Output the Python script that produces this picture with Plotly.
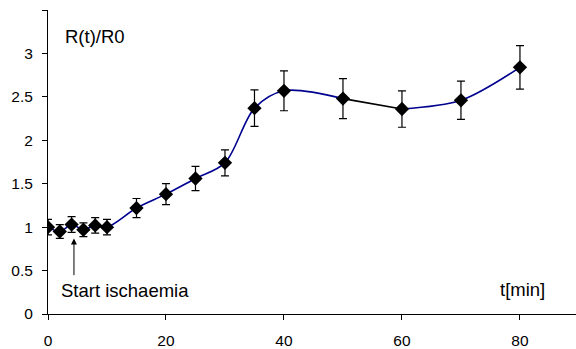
import plotly.graph_objects as go

t = [0, 2, 4, 6, 8, 10, 15, 20, 25, 30, 35, 40, 50, 60, 70, 80]
ratio = [1.00, 0.95, 1.03, 0.97, 1.02, 1.00, 1.22, 1.38, 1.56, 1.74, 2.37, 2.57, 2.48, 2.36, 2.46, 2.84]
err = [0.09, 0.08, 0.09, 0.08, 0.09, 0.09, 0.11, 0.12, 0.14, 0.15, 0.21, 0.23, 0.23, 0.21, 0.22, 0.25]
ytick_vals = [0, 0.5, 1, 1.5, 2, 2.5, 3, 3.5]
ytick_text = ["0", "0.5", "1", "1.5", "2", "2.5", "3", ""]
xtick_vals = [0, 20, 40, 60, 80]

FONT = "Liberation Sans, Arial, sans-serif"
NAVY = "#000090"

i50 = t.index(50)
i60 = t.index(60)

fig = go.Figure()
fig.add_trace(go.Scatter(x=t[:i50 + 1], y=ratio[:i50 + 1], mode="lines",
                         line=dict(color=NAVY, width=1.6, shape="spline", smoothing=0.9),
                         hoverinfo="skip", showlegend=False))
fig.add_trace(go.Scatter(x=t[i50:i60 + 1], y=ratio[i50:i60 + 1], mode="lines",
                         line=dict(color="black", width=1.6),
                         hoverinfo="skip", showlegend=False))
fig.add_trace(go.Scatter(x=t[i60:], y=ratio[i60:], mode="lines",
                         line=dict(color=NAVY, width=1.6, shape="spline", smoothing=0.9),
                         hoverinfo="skip", showlegend=False))
fig.add_trace(go.Scatter(x=t, y=ratio, mode="markers",
                         marker=dict(symbol="diamond", size=11, color="black"),
                         error_y=dict(type="data", array=err, visible=True,
                                      color="black", thickness=1.2, width=4),
                         showlegend=False))

fig.add_annotation(x=4.4, y=0.87, ax=4.4, ay=0.43, xref="x", yref="y",
                   axref="x", ayref="y", showarrow=True, arrowhead=2,
                   arrowsize=1.2, arrowwidth=1, arrowcolor="black", text="")
fig.add_annotation(x=1.8, y=0.27, xref="x", yref="y", text="Start ischaemia",
                   showarrow=False, xanchor="left", yanchor="middle",
                   font=dict(family=FONT, size=18.5, color="black"))
fig.add_annotation(x=2.6, y=3.2, xref="x", yref="y", text="R(t)/R0",
                   showarrow=False, xanchor="left", yanchor="middle",
                   font=dict(family=FONT, size=18.5, color="black"))
fig.add_annotation(x=76.3, y=0.28, xref="x", yref="y", text="t[min]",
                   showarrow=False, xanchor="left", yanchor="middle",
                   font=dict(family=FONT, size=18.5, color="black"))

fig.update_layout(
    width=576, height=349,
    margin=dict(l=48, r=0, t=10, b=35),
    paper_bgcolor="white", plot_bgcolor="white",
    font=dict(family=FONT, size=15.5, color="black"),
    showlegend=False,
)
fig.update_xaxes(range=[0, 89.5], tickvals=xtick_vals, ticks="outside", ticklen=5,
                 tickcolor="black", showline=True, linecolor="black", linewidth=1,
                 showgrid=False, zeroline=False, tickfont=dict(size=15.5),
                 ticklabelstandoff=7)
fig.update_yaxes(range=[0, 3.5], tickvals=ytick_vals, ticktext=ytick_text,
                 ticks="outside", ticklen=5, tickcolor="black", showline=True,
                 linecolor="black", linewidth=1, showgrid=False, zeroline=False,
                 tickfont=dict(size=15.5), ticklabelstandoff=6)

fig.write_html("out.html")
